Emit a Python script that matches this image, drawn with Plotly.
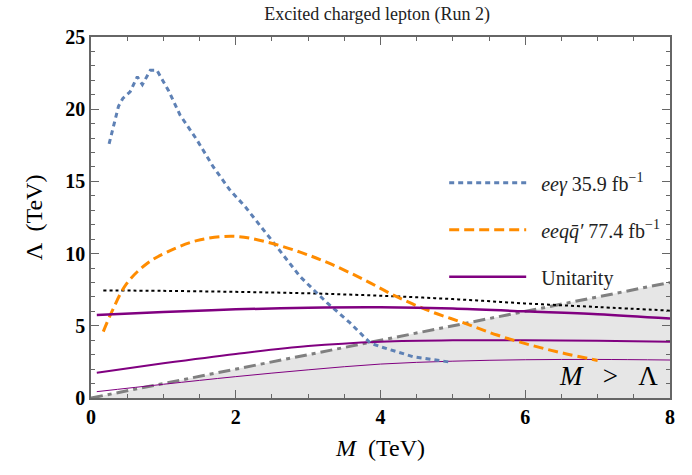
import plotly.graph_objects as go

# eeγ 35.9 fb^-1 (blue dotted)
m_eeg = [0.25, 0.31, 0.38, 0.44, 0.54, 0.64, 0.71, 0.82, 0.91, 1.07, 1.23, 1.46, 1.69, 1.92, 2.13, 2.5, 2.89, 3.26, 3.58, 3.86, 4.0, 4.45, 4.94]
l_eeg = [17.6, 18.8, 20.2, 20.75, 21.2, 22.25, 21.7, 22.7, 22.7, 21.3, 19.6, 17.9, 16.0, 14.4, 13.25, 10.9, 8.4, 6.6, 5.2, 3.8, 3.55, 2.86, 2.5]

# eeqq' 77.4 fb^-1 (orange dashed)
m_eeqq = [0.17, 0.29, 0.49, 0.77, 1.05, 1.46, 1.97, 2.43, 2.89, 3.28, 3.77, 4.23, 4.69, 5.15, 5.61, 6.07, 6.53, 7.0]
l_eeqq = [4.6, 6.0, 7.9, 9.3, 10.1, 10.9, 11.2, 10.8, 10.1, 9.35, 8.2, 7.0, 6.0, 5.2, 4.36, 3.67, 3.1, 2.6]

# black dotted line
m_black = [0.17, 1, 2, 3, 4, 5, 6, 7, 8]
l_black = [7.45, 7.42, 7.35, 7.25, 7.08, 6.85, 6.55, 6.3, 6.05]

# Unitarity curves (purple)
m_u = [0.08, 1, 2, 3, 4, 5, 6, 7, 8]
l_u1 = [5.75, 5.95, 6.14, 6.25, 6.28, 6.2, 6.0, 5.8, 5.5]
l_u2 = [1.75, 2.4, 3.05, 3.6, 3.9, 4.0, 4.0, 3.97, 3.9]
l_u3 = [0.44, 0.95, 1.48, 1.95, 2.35, 2.55, 2.65, 2.67, 2.63]

# M = Lambda boundary
m_diag = [0, 8]
l_diag = [0, 8]
shade_x = [0, 8, 8, 0]
shade_y = [0, 8, 0, 0]

x_ticks = [0, 2, 4, 6, 8]
y_ticks = [0, 5, 10, 15, 20, 25]

BLUE = "#5E81B5"
ORANGE = "#FF8C00"
PURPLE = "#800080"
GRAY = "#808080"
AX = "#666666"
SERIF = "Liberation Serif"

fig = go.Figure()
fig.add_trace(go.Scatter(x=shade_x, y=shade_y, fill="toself", fillcolor="#E6E6E6",
                         line=dict(width=0), mode="lines", showlegend=False, hoverinfo="skip"))
fig.add_trace(go.Scatter(x=m_diag, y=l_diag, mode="lines", showlegend=False,
                         line=dict(color=GRAY, width=3, dash="12px,5px,4px,5px")))
fig.add_trace(go.Scatter(x=m_u, y=l_u3, mode="lines", showlegend=False,
                         line=dict(color=PURPLE, width=1, shape="spline")))
fig.add_trace(go.Scatter(x=m_u, y=l_u2, mode="lines", showlegend=False,
                         line=dict(color=PURPLE, width=2, shape="spline")))
fig.add_trace(go.Scatter(x=m_black, y=l_black, mode="lines", showlegend=False,
                         line=dict(color="black", width=2, dash="3px,3px", shape="spline")))
fig.add_trace(go.Scatter(x=m_eeg, y=l_eeg, mode="lines", name="&nbsp;&nbsp;<i>eeγ</i> 35.9 fb<sup>−1</sup>",
                         legendgroup="a", legendrank=1,
                         line=dict(color=BLUE, width=3, dash="5px,4px")))
fig.add_trace(go.Scatter(x=m_eeqq, y=l_eeqq, mode="lines", name="&nbsp;&nbsp;<i>eeqq̄′</i> 77.4 fb<sup>−1</sup>",
                         legendgroup="b", legendrank=2,
                         line=dict(color=ORANGE, width=3, dash="10px,5px", shape="spline")))
fig.add_trace(go.Scatter(x=m_u, y=l_u1, mode="lines", name="&nbsp;&nbsp;Unitarity",
                         legendgroup="c", legendrank=3,
                         line=dict(color=PURPLE, width=2.5, shape="spline")))
# empty trace to activate mirrored axes (top/right minor ticks)
fig.add_trace(go.Scatter(x=[], y=[], xaxis="x2", yaxis="y2", showlegend=False))

tick_common = dict(showline=True, linecolor=AX, linewidth=1.5,
                   ticks="inside", ticklen=8, tickwidth=1.2, tickcolor=AX,
                   showgrid=False, zeroline=False)
tfont = dict(family=SERIF, size=20, color="black", weight="bold")

fig.update_layout(
    xaxis=dict(range=[0, 8], tickvals=x_ticks, tickfont=tfont,
               minor=dict(dtick=0.5, ticks="inside", ticklen=4, tickcolor=AX),
               title=dict(text="<i>M</i>  (TeV)", font=dict(family=SERIF, size=24, color="black"), standoff=12),
               **tick_common),
    yaxis=dict(range=[0, 25], tickvals=y_ticks, tickfont=tfont,
               minor=dict(dtick=1, ticks="inside", ticklen=4, tickcolor=AX),
               title=dict(text="Λ  (TeV)", font=dict(family=SERIF, size=24, color="black"), standoff=16),
               **tick_common),
    xaxis2=dict(range=[0, 8], tickvals=x_ticks, overlaying="x", side="top", showticklabels=False,
                minor=dict(dtick=0.5, ticks="inside", ticklen=4, tickcolor=AX),
                **tick_common),
    yaxis2=dict(range=[0, 25], tickvals=y_ticks, overlaying="y", side="right", showticklabels=False,
                minor=dict(dtick=1, ticks="inside", ticklen=4, tickcolor=AX),
                **tick_common),
)

fig.add_annotation(x=7.86, y=0.35, xref="x", yref="y", xanchor="right", yanchor="bottom",
                   text="<i>M</i>&nbsp;&nbsp;&nbsp;>&nbsp;&nbsp;&nbsp;Λ", showarrow=False,
                   font=dict(family=SERIF, size=27, color="black"))

fig.update_layout(
    width=692, height=475,
    margin=dict(l=91, r=22, t=37, b=77),
    paper_bgcolor="white", plot_bgcolor="white",
    title=dict(text="Excited charged lepton (Run 2)", x=0.545, xanchor="center", y=0.985, yanchor="top",
               font=dict(family=SERIF, size=18, color="#222")),
    legend=dict(x=0.61, y=0.65, xanchor="left", yanchor="top", bgcolor="rgba(0,0,0,0)",
                font=dict(family=SERIF, size=20, color="#222"), itemwidth=77,
                tracegroupgap=18),
)

fig.write_html("out.html")
